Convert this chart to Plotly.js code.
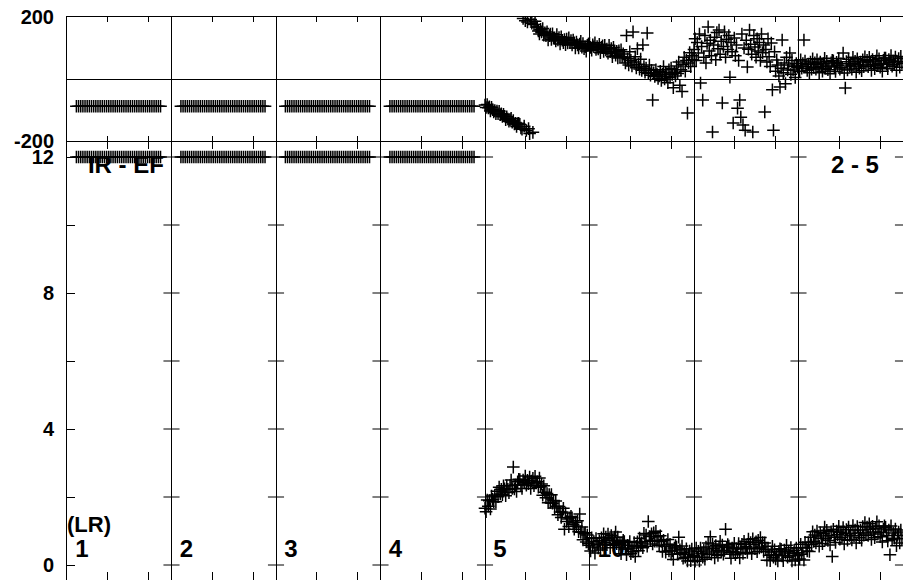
<!DOCTYPE html>
<html>
<head>
<meta charset="utf-8">
<script src="https://cdn.plot.ly/plotly-3.0.1.min.js"></script>
<style>html,body{margin:0;padding:0;background:#fff;}#chart{width:903px;height:580px;}</style>
</head>
<body>
<div id="chart"></div>
<script>
// ---------------- DATA ----------------
const sectionLabels = ['1', '2', '3', '4', '5', '10'];
const cornerLabelBottom = '(LR)';
const panelLabelLeft = 'IR - EF';
const panelLabelRight = '2 - 5';

// sections 1-4: constant placeholder readings (same in each of those sections)
const idleTop = [-88,-88,-88,-88,-88,-88,-88,-88,-88,-88,-88,-88,-88,-88,-88,-88,-88,-88,-88,-88,
                 -88,-88,-88,-88,-88,-88,-88,-88,-88,-88,-88,-88,-88,-88,-88,-88,-88,-88,-88,-88];
const idleBottom = [12,12,12,12,12,12,12,12,12,12,12,12,12,12,12,12,12,12,12,12,
                    12,12,12,12,12,12,12,12,12,12,12,12,12,12,12,12,12,12,12,12];

// sections 5-8, top panel (degrees, wrapped to +-180)
const top5 = [-84,-92,-82,-93,-90,-103,-91,-99,-106,-102,-112,-103,-112,-104,-115,-112,
              -121,-114,-120,-131,-122,-129,-136,-131,-127,-139,-134,-145,-143,-153,-144,-143,
              -146,-158,-162,195,-152,188,-166,184,-160,-176,192,180,-172,176,186,168,
              168,155,145,160,152,163,141,149,140,152,126,140,145,128,146,132,
              133,123,143,126,134,113,136,125,117,127,111,129,116,133,117,124,
              110,126,117,100,119,110,100,113,122,103,114,98,104,90,109,113];
const top6 = [115,102,93,110,104,117,95,105,97,112,85,102,107,89,109,94,
              97,83,109,88,98,72,102,88,77,89,68,91,73,94,72,81,
              70,52,140,65,45,88,60,42,152,55,72,36,98,48,32,64,
              28,110,40,22,35,148,18,45,12,28,-68,20,8,30,15,2,
              10,25,-5,15,40,0,20,8,-12,30,5,35,15,-28,22,10,
              42,18,55,-20,30,-40,48,70,25,60,-110,52,85,40,75,62];
const top7 = [95,130,60,118,84,145,-13,105,-68,70,140,52,115,168,90,125,
              75,-171,110,135,62,150,98,158,80,122,-77,105,152,70,128,95,
              140,6,118,88,-142,132,75,110,-94,60,-68,-123,145,-148,100,-165,
              125,39,96,158,112,80,-171,140,103,70,130,90,118,60,145,85,
              110,-106,95,55,130,72,40,116,-35,-165,88,25,61,45,10,-26,
              35,126,20,52,-15,70,29,45,84,15,60,29,40,5,50,38];
const top8 = [42,25,62,35,50,126,58,40,28,48,20,55,32,65,38,52,
              32,62,47,20,55,40,25,50,67,35,57,30,42,17,52,60,
              59,39,24,54,44,66,32,49,37,84,19,-29,56,29,64,42,
              50,32,70,42,57,22,65,47,35,55,27,62,40,72,45,60,
              40,70,55,28,63,48,33,58,75,43,65,38,50,25,60,68,
              68,48,33,63,53,76,41,58,46,71,28,56,66,38,73,51];

// sections 5-8, bottom panel
const bot5 = [1.67,1.57,1.91,1.73,1.89,1.65,2.03,1.93,1.86,2.06,1.86,2.17,2.01,2.29,2.09,2.23,
              2.07,2.33,2.24,2.04,2.33,2.23,2.13,2.34,2.50,2.25,2.88,2.24,2.35,2.16,2.45,2.52,
              2.51,2.36,2.25,2.50,2.43,2.62,2.35,2.49,2.39,2.59,2.25,2.47,2.55,2.33,2.61,2.42,
              2.45,2.29,2.56,2.30,2.38,2.05,2.33,2.14,1.98,2.10,1.83,2.07,1.84,2.07,1.82,1.90,
              1.68,1.88,1.73,1.48,1.72,1.56,1.40,1.56,1.67,1.05,1.53,1.28,1.35,1.13,1.39,1.43,
              1.39,1.20,1.05,1.26,1.15,1.30,0.98,1.50,0.96,1.12,0.74,0.92,0.95,0.68,0.88,0.63];
const bot6 = [0.58,0.41,0.80,0.53,0.69,0.35,0.78,0.61,0.50,0.71,0.44,0.80,0.59,0.92,0.66,0.82,
              0.60,0.91,0.77,0.51,0.87,0.73,0.58,0.82,0.97,0.63,0.82,0.52,0.61,0.33,0.66,0.73,
              0.69,0.47,0.30,0.58,0.47,0.69,0.33,0.50,0.39,0.66,0.25,0.55,0.68,0.42,0.79,0.58,
              0.65,0.51,0.93,0.69,0.88,0.55,1.28,0.84,0.73,0.92,0.62,0.95,0.70,0.99,0.70,0.83,
              0.58,0.86,0.69,0.40,0.73,0.55,0.38,0.60,0.75,0.41,0.61,0.32,0.42,0.16,0.50,0.57,
              0.53,0.32,0.82,0.45,0.34,0.56,0.20,0.36,0.23,0.48,0.12,0.32,0.41,0.13,0.47,0.25];
const bot7 = [0.28,0.11,0.50,0.23,0.40,0.12,0.50,0.33,0.23,0.44,0.17,0.53,0.32,0.65,0.38,0.83,
              0.32,0.62,0.48,0.21,0.57,0.42,0.28,0.53,0.70,0.38,0.59,0.32,0.43,1.05,0.52,0.60,
              0.56,0.36,0.20,0.50,0.40,0.64,0.30,0.48,0.37,0.63,0.21,0.50,0.61,0.34,0.70,0.48,
              0.54,0.37,0.76,0.50,0.66,0.33,0.77,0.60,0.48,0.68,0.39,0.73,0.50,0.81,0.53,0.66,
              0.40,0.65,0.45,0.14,0.46,0.29,0.13,0.38,0.55,0.23,0.45,0.18,0.30,0.12,0.40,0.48,
              0.46,0.27,0.13,0.44,0.35,0.58,0.23,0.40,0.27,0.51,0.12,0.34,0.43,0.15,0.50,0.28];
const bot8 = [0.36,0.18,0.61,0.32,0.51,0.15,0.67,0.51,0.41,0.66,0.40,0.82,0.60,0.98,0.69,0.88,
              0.65,1.00,0.85,0.55,0.95,0.79,0.63,0.92,1.12,0.77,1.02,0.72,0.86,0.59,0.98,0.25,
              1.05,0.82,0.66,1.00,0.89,1.14,0.76,0.96,0.82,1.10,0.62,0.93,1.04,0.73,1.12,0.87,
              0.93,0.74,1.16,0.86,1.03,0.65,1.13,0.94,0.80,1.03,0.73,1.13,0.88,1.25,0.94,1.12,
              0.87,1.21,1.05,0.75,1.14,0.97,0.80,1.08,1.27,0.91,1.15,0.83,0.96,0.68,1.06,1.15,
              1.11,0.87,0.71,1.03,0.30,1.15,0.75,0.94,0.79,1.06,0.57,0.87,0.97,0.65,1.03,0.77];

const yTickVals = [0, 2, 4, 6, 8, 10, 12];
const yTickText = ['0', '', '4', '', '8', '', '12'];
const y2TickVals = [-200, 200];
const y2TickText = ['-200', '200'];
const sectionMinorTicks = [0.39, 0.78]; // within each section

// ---------------- BUILD ----------------
const nSections = 8;
const idleStart = 0.09, idleEnd = 0.895;
const activeTop = [top5, top6, top7, top8];
const activeBot = [bot5, bot6, bot7, bot8];

function buildSeries() {
  const tx = [], ty = [], bx = [], by = [];
  const idleStep = (idleEnd - idleStart) / (idleTop.length - 1);
  for (let k = 0; k < 4; k++) {
    idleTop.forEach((v, j) => { tx.push(k + idleStart + j * idleStep); ty.push(v); });
    idleBottom.forEach((v, j) => { bx.push(k + idleStart + j * idleStep); by.push(v); });
  }
  activeTop.forEach((arr, s) => {
    arr.forEach((v, i) => { tx.push(4 + s + i / arr.length); ty.push(v); });
  });
  activeBot.forEach((arr, s) => {
    arr.forEach((v, i) => { bx.push(4 + s + i / arr.length); by.push(v); });
  });
  return {tx, ty, bx, by};
}
const S = buildSeries();

const gridVals = [];
for (let k = 0; k <= nSections; k++) gridVals.push(k);
const minorVals = [];
for (let k = 0; k < nSections; k++) sectionMinorTicks.forEach(f => minorVals.push(k + f));

// crossing tick marks on each section boundary
const crossX = [], crossY = [];
for (let k = 1; k <= nSections; k++) yTickVals.forEach(v => { crossX.push(k); crossY.push(v); });

const fontFam = '"Liberation Sans", Arial, Helvetica, sans-serif';
const tickFont = {family: fontFam, size: 20, color: '#000', weight: 700};

const labelX = [], labelY = [], labelT = [], labelS = [];
sectionLabels.forEach((t, k) => { labelX.push(k + 0.08); labelY.push(0.41); labelT.push(t); labelS.push(24); });
labelX.push(0.0); labelY.push(1.12); labelT.push(cornerLabelBottom); labelS.push(22);
labelX.push(0.2); labelY.push(11.72); labelT.push(panelLabelLeft); labelS.push(24);
labelX.push(7.31); labelY.push(11.72); labelT.push(panelLabelRight); labelS.push(24);

const crossMarker = {symbol: 'cross-thin', size: 9, color: '#000', line: {color: '#000', width: 1.5}};

const traces = [
  {x: labelX, y: labelY, text: labelT, mode: 'text', textposition: 'middle right',
   textfont: {family: fontFam, size: labelS, color: '#000', weight: 700},
   xaxis: 'x', yaxis: 'y', hoverinfo: 'skip'},
  {x: crossX, y: crossY, mode: 'markers', xaxis: 'x', yaxis: 'y', hoverinfo: 'skip',
   marker: {symbol: 'line-ew', size: 11.5, color: '#000', line: {color: '#000', width: 1}}},
  {x: S.tx, y: S.ty, mode: 'markers', xaxis: 'x2', yaxis: 'y2', marker: crossMarker},
  {x: S.bx, y: S.by, mode: 'markers', xaxis: 'x', yaxis: 'y', marker: crossMarker}
];

const split = 0.7797;
const layout = {
  width: 903, height: 580,
  margin: {l: 67, r: 0, t: 17, b: 0, pad: 0},
  paper_bgcolor: '#fff', plot_bgcolor: '#fff',
  showlegend: false, hovermode: false,
  font: {family: fontFam, color: '#000'},
  xaxis: {
    domain: [0, 1], anchor: 'y', range: [0, nSections],
    tickmode: 'array', tickvals: gridVals, showticklabels: false,
    ticks: 'inside', ticklen: 8, tickcolor: '#000', mirror: 'ticks',
    showgrid: true, gridcolor: '#000', gridwidth: 1,
    showline: false, zeroline: false,
    minor: {tickmode: 'array', tickvals: minorVals, ticks: 'inside', ticklen: 8, tickcolor: '#000', showgrid: false}
  },
  xaxis2: {
    domain: [0, 1], anchor: 'y2', range: [0, nSections], matches: 'x',
    tickmode: 'array', tickvals: gridVals, showticklabels: false,
    ticks: 'inside', ticklen: 5, tickcolor: '#000', mirror: 'ticks',
    showgrid: true, gridcolor: '#000', gridwidth: 1,
    showline: true, linecolor: '#000', linewidth: 1, zeroline: false,
    minor: {tickmode: 'array', tickvals: minorVals, ticks: 'inside', ticklen: 5, tickcolor: '#000', showgrid: false}
  },
  yaxis: {
    domain: [0, split], anchor: 'x', range: [-0.441, 12.47],
    tickmode: 'array', tickvals: yTickVals, ticktext: yTickText,
    ticks: 'inside', ticklen: 8, tickcolor: '#000', ticklabelstandoff: 8,
    showline: true, linecolor: '#000', linewidth: 1,
    showgrid: false, zeroline: false, tickfont: tickFont
  },
  yaxis2: {
    domain: [split, 1], anchor: 'x2', range: [-200, 200],
    tickmode: 'array', tickvals: y2TickVals, ticktext: y2TickText,
    ticks: 'inside', ticklen: 4, tickcolor: '#000', ticklabelstandoff: 8,
    showline: true, linecolor: '#000', linewidth: 1,
    showgrid: false, zeroline: true, zerolinecolor: '#000', zerolinewidth: 1,
    tickfont: tickFont
  }
};

Plotly.newPlot('chart', traces, layout, {staticPlot: true, displayModeBar: false});
</script>
</body>
</html>
